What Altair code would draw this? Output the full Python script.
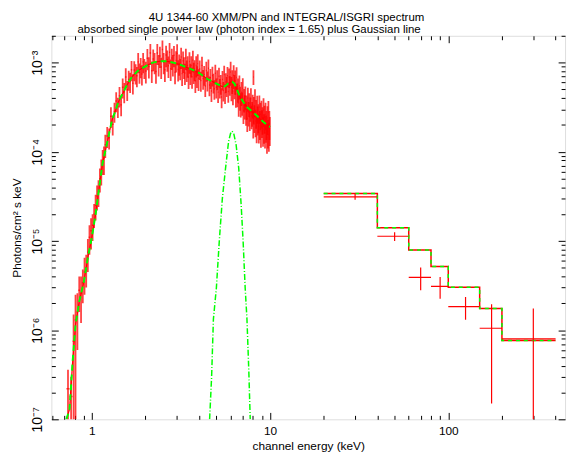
import altair as alt
import pandas as pd

# ---------------- XMM/PN data (keV, half-width keV, flux & error in units of 1e-4) ----------------
xmm_a_e = [0.735, 0.765, 0.79, 0.81, 0.83, 0.85, 0.87, 0.89, 0.91, 0.93, 0.95, 0.97, 0.99,
           1.01, 1.03, 1.05, 1.07, 1.09, 1.11, 1.13, 1.15, 1.17, 1.19]
xmm_a_hw = [0.015, 0.015, 0.01, 0.01, 0.01, 0.01, 0.01, 0.01, 0.01, 0.01, 0.01, 0.01, 0.01,
            0.01, 0.01, 0.01, 0.01, 0.01, 0.01, 0.01, 0.01, 0.01, 0.01]
xmm_a_y = [0.0022, 0.0018, 0.0075, 0.013, 0.016, 0.028, 0.026, 0.034, 0.045, 0.05, 0.075, 0.11, 0.13,
           0.15, 0.2, 0.25, 0.32, 0.36, 0.5, 0.62, 0.8, 0.85, 1.2]
xmm_a_err = [0.0014, 0.0012, 0.0075, 0.012, 0.010, 0.012, 0.014, 0.014, 0.02, 0.02, 0.03, 0.04, 0.05,
             0.05, 0.06, 0.08, 0.1, 0.12, 0.15, 0.2, 0.25, 0.3, 0.35]

xmm_b_e = [1.22, 1.25, 1.28, 1.31, 1.34, 1.37, 1.40, 1.43, 1.46, 1.49, 1.52, 1.55, 1.58,
           1.61, 1.64, 1.67, 1.70, 1.73, 1.76, 1.79, 1.82, 1.85, 1.88, 1.91, 1.94, 1.97]
xmm_b_hw = 0.015
xmm_b_y = [1.5, 1.44, 2.5, 2.04, 2.84, 3.72, 3.22, 4.24, 3.36, 5.31, 4.7, 6.89, 4.97,
           6.48, 6.13, 8.3, 5.89, 8.29, 7.65, 7.11, 10.2, 7.8, 9.0, 7.44, 10.2, 8.77]
xmm_b_err = [0.4, 0.38, 0.65, 0.52, 0.72, 0.95, 0.82, 1.1, 0.85, 1.35, 1.2, 1.75, 1.25,
             1.65, 1.55, 2.1, 1.5, 2.1, 1.95, 1.8, 2.6, 2.0, 2.3, 1.9, 2.6, 2.2]

xmm_c_e = [2.01, 2.05, 2.09, 2.13, 2.17, 2.21, 2.25, 2.29, 2.33, 2.37,
           2.41, 2.45, 2.49, 2.53, 2.57, 2.61, 2.65, 2.69, 2.73, 2.77,
           2.81, 2.85, 2.89, 2.93, 2.97, 3.01, 3.05, 3.09, 3.13, 3.17,
           3.21, 3.25, 3.29, 3.33, 3.37, 3.41, 3.45, 3.49, 3.53, 3.57,
           3.61, 3.65, 3.69, 3.73, 3.77, 3.81, 3.85, 3.89, 3.93, 3.97]
xmm_c_hw = 0.02
xmm_c_y = [8.05, 11.2, 9.07, 12.8, 8.12, 11.0, 10.1, 7.96, 12.8, 9.58,
           11.9, 8.94, 14.0, 10.1, 8.32, 12.2, 10.8, 9.23, 13.1, 8.53,
           11.3, 9.6, 12.1, 7.82, 10.6, 12.7, 8.4, 9.74, 8.69, 11.6,
           7.53, 10.5, 9.01, 7.65, 11.3, 8.32, 9.28, 6.92, 10.3, 7.65,
           9.3, 6.93, 10.7, 7.87, 8.42, 6.28, 9.3, 7.14, 9.75, 6.62]
xmm_c_err = [2.2, 3.0, 2.45, 3.4, 2.2, 3.0, 2.7, 2.15, 3.4, 2.6,
             3.2, 2.4, 3.7, 2.7, 2.25, 3.3, 2.9, 2.5, 3.5, 2.3,
             3.05, 2.6, 3.25, 2.1, 2.85, 3.4, 2.25, 2.6, 2.35, 3.1,
             2.05, 2.85, 2.45, 2.05, 3.05, 2.25, 2.5, 1.85, 2.8, 2.05,
             2.5, 1.85, 2.9, 2.1, 2.25, 1.7, 2.5, 1.95, 2.65, 1.8]

xmm_d_e = [4.03, 4.09, 4.15, 4.21, 4.27, 4.33, 4.39, 4.45, 4.51, 4.57,
           4.63, 4.69, 4.75, 4.81, 4.87, 4.93, 4.99, 5.05, 5.11, 5.17,
           5.23, 5.29, 5.35, 5.41, 5.47, 5.53, 5.59, 5.65, 5.71, 5.77,
           5.83, 5.89, 5.95, 6.01, 6.07, 6.13, 6.19, 6.25, 6.31, 6.37,
           6.43, 6.49, 6.55, 6.61, 6.67, 6.73, 6.79, 6.85, 6.91, 6.97,
           7.03, 7.09, 7.15, 7.21, 7.27, 7.33, 7.39, 7.45, 7.51, 7.57,
           7.63, 7.69, 7.75, 7.81, 7.87, 7.93, 7.99, 8.05, 8.11, 8.17,
           8.23, 8.29, 8.35, 8.41, 8.47, 8.53, 8.59, 8.65, 8.71, 8.77,
           8.83, 8.89, 8.95, 9.01, 9.07, 9.13, 9.19, 9.25, 9.31, 9.37,
           9.43, 9.49, 9.55, 9.61, 9.67, 9.73, 9.79, 9.85, 9.91, 9.97]
xmm_d_hw = 0.03
xmm_d_y = [8.49, 6.32, 9.32, 6.63, 7.34, 5.47, 8.17, 6.35, 8.66, 5.6,
           6.77, 4.82, 7.19, 6.0, 5.09, 7.59, 5.31, 6.56, 4.67, 7.03,
           5.27, 5.82, 4.12, 6.46, 4.86, 7.37, 4.58, 6.08, 5.51, 7.11,
           4.74, 6.89, 5.64, 7.87, 5.29, 6.34, 4.78, 7.2, 5.59, 6.27,
           4.46, 6.82, 4.5, 5.11, 3.53, 5.52, 4.13, 3.48, 4.66, 3.58,
           5.15, 2.9, 3.91, 3.3, 4.16, 2.81, 3.28, 2.37, 4.02, 2.77,
           3.5, 2.46, 3.12, 3.96, 2.54, 2.76, 3.37, 2.16, 3.07, 2.48,
           3.74, 2.21, 2.81, 1.95, 3.16, 2.37, 2.51, 1.94, 3.17, 2.11,
           2.64, 1.71, 2.78, 2.18, 2.35, 1.79, 2.94, 1.93, 2.44, 1.64,
           2.64, 1.91, 2.11, 1.45, 2.39, 1.69, 2.77, 1.55, 2.11, 1.81]
xmm_d_err = [2.1, 1.6, 2.35, 1.65, 1.85, 1.35, 2.05, 1.6, 2.15, 1.4,
             1.7, 1.2, 1.8, 1.5, 1.25, 1.9, 1.35, 1.65, 1.15, 1.75,
             1.3, 1.45, 1.05, 1.6, 1.2, 1.85, 1.15, 1.5, 1.4, 1.8,
             1.2, 1.7, 1.4, 2.35, 1.6, 1.9, 1.45, 2.15, 1.7, 1.9,
             1.35, 2.05, 1.35, 1.55, 1.05, 1.65, 1.25, 1.05, 1.4, 1.05,
             1.55, 0.85, 1.15, 1.0, 1.25, 0.85, 1.0, 0.7, 1.2, 0.85,
             1.05, 0.75, 0.95, 1.2, 0.75, 0.85, 1.0, 0.75, 1.05, 0.85,
             1.3, 0.75, 1.0, 0.7, 1.1, 0.85, 0.9, 0.7, 1.1, 0.75,
             0.9, 0.6, 0.95, 0.75, 0.8, 0.65, 1.05, 0.7, 0.85, 0.55,
             0.9, 0.65, 0.75, 0.5, 0.85, 0.6, 0.95, 0.55, 0.75, 0.65]

xmm_out_e = [8.07]
xmm_out_hw = 0.03
xmm_out_y = [6.9]
xmm_out_err = [1.3]

# XMM total model (units of 1e-4)
xmm_model_e = [0.72, 0.75, 0.78, 0.81, 0.85, 0.90, 0.95, 1.00, 1.05, 1.10, 1.15, 1.20,
               1.25, 1.30, 1.35, 1.40, 1.45, 1.50, 1.55, 1.60, 1.65, 1.70,
               1.80, 1.90, 2.00,
               2.10, 2.20, 2.30, 2.40, 2.50, 2.60, 2.70, 2.80, 2.90, 3.00,
               3.20, 3.40, 3.60, 3.80, 4.00,
               4.45, 5.06, 5.39, 5.60, 5.80, 6.00, 6.13, 6.30, 6.50, 6.80,
               7.10, 7.42, 8.00, 8.50, 9.15, 9.78, 10.0]
xmm_model_v = [0.001, 0.0013, 0.0044, 0.0115, 0.021, 0.034, 0.065, 0.11, 0.2, 0.4, 0.75, 1.1,
               1.6, 2.3, 2.8, 3.5, 4.1, 4.6, 5.3, 5.9, 6.6, 7.1,
               8.0, 8.6, 9.1,
               9.6, 10.0, 10.2, 10.35, 10.4, 10.35, 10.25, 10.1, 9.95, 9.75,
               9.3, 8.85, 8.45, 8.05, 7.65,
               6.55, 5.75, 5.38, 5.45, 5.8, 6.05, 6.1, 5.85, 5.1, 4.1,
               3.6, 3.18, 2.8, 2.5, 2.17, 1.95, 1.9]

# Gaussian line component (units of 1e-4)
gauss_e = [4.58, 4.70, 4.81, 5.00, 5.19, 5.40, 5.63, 5.85, 6.00, 6.12,
           6.25, 6.45, 6.67, 6.88, 7.06, 7.25, 7.42, 7.60, 7.74]
gauss_v = [0.001, 0.003, 0.0133, 0.03, 0.10, 0.3, 0.66, 1.3, 1.6, 1.71,
           1.62, 1.2, 0.66, 0.26, 0.10, 0.03, 0.0133, 0.0035, 0.001]

# ---------------- INTEGRAL/ISGRI ----------------
int_lo = [20, 40, 60, 80, 100, 150, 200]
int_hi = [40, 60, 80, 100, 150, 200, 400]
int_e = [30, 50, 70, 90, 125, 175, 300]
int_y = [3.13e-5, 1.13e-5, 3.9e-6, 3.1e-6, 1.84e-6, 1.05e-6, 8.0e-7]
int_ylo = [2.9e-5, 1.0e-5, 2.8e-6, 2.25e-6, 1.31e-6, 1.5e-7, 1e-9]
int_yhi = [3.4e-5, 1.25e-5, 5.05e-6, 3.95e-6, 2.35e-6, 1.95e-6, 1.75e-6]
int_model = [3.4e-5, 1.41e-5, 7.9e-6, 5.18e-6, 3.03e-6, 1.75e-6, 7.66e-7]

X_TICKS = [0.6, 0.7, 0.8, 0.9, 1, 2, 3, 4, 5, 6, 7, 8, 9, 10, 20, 30, 40, 50, 60, 70, 80, 90,
           100, 200, 300, 400]
Y_TICKS = [1e-7, 2e-7, 3e-7, 4e-7, 5e-7, 6e-7, 7e-7, 8e-7, 9e-7,
           1e-6, 2e-6, 3e-6, 4e-6, 5e-6, 6e-6, 7e-6, 8e-6, 9e-6,
           1e-5, 2e-5, 3e-5, 4e-5, 5e-5, 6e-5, 7e-5, 8e-5, 9e-5,
           1e-4, 2e-4, 3e-4, 4e-4, 5e-4, 6e-4, 7e-4, 8e-4, 9e-4,
           1e-3, 2e-3]
Y_LABELS = [1e-7, 1e-6, 1e-5, 1e-4, 1e-3]

TITLE1 = "4U 1344-60 XMM/PN and INTEGRAL/ISGRI spectrum"
TITLE2 = "absorbed single power law (photon index = 1.65) plus Gaussian line"

# ---------------- build tables ----------------
def seg(e, hw, y, err):
    hws = hw if isinstance(hw, list) else [hw] * len(e)
    return pd.DataFrame({"E": e, "hw": hws, "y": y, "err": err})

xmm = pd.concat([seg(xmm_a_e, xmm_a_hw, xmm_a_y, xmm_a_err),
                 seg(xmm_b_e, xmm_b_hw, xmm_b_y, xmm_b_err),
                 seg(xmm_c_e, xmm_c_hw, xmm_c_y, xmm_c_err),
                 seg(xmm_d_e, xmm_d_hw, xmm_d_y, xmm_d_err),
                 seg(xmm_out_e, xmm_out_hw, xmm_out_y, xmm_out_err)], ignore_index=True)
xmm["flux"] = xmm["y"] * 1e-4
xmm["lo"] = ((xmm["y"] - xmm["err"]) * 1e-4).clip(lower=1e-9)
xmm["hi"] = (xmm["y"] + xmm["err"]) * 1e-4
xmm["e0"] = xmm["E"] - xmm["hw"]
xmm["e1"] = xmm["E"] + xmm["hw"]

xmod = pd.DataFrame({"E": xmm_model_e, "flux": [v * 1e-4 for v in xmm_model_v]})
gmod = pd.DataFrame({"E": gauss_e, "flux": [v * 1e-4 for v in gauss_v]})
integ = pd.DataFrame({"e0": int_lo, "e1": int_hi, "E": int_e, "flux": int_y,
                      "lo": int_ylo, "hi": int_yhi})
istep = pd.DataFrame({"E": int_lo + [int_hi[-1]], "flux": int_model + [int_model[-1]]})

# ---------------- scales / axes ----------------
W, H = 521, 389
FONT = "Liberation Sans"
RED = "#ff0000"
GREEN = "#00ff00"
xs = alt.Scale(type="log", domain=[0.593, 452], nice=False)
ys = alt.Scale(type="log", domain=[1e-7, 2e-3], nice=False)

XMAJ = "datum.value == 1 || datum.value == 10 || datum.value == 100"
YMAJ = ("datum.value == 1e-7 || datum.value == 1e-6 || datum.value == 1e-5 || "
        "datum.value == 1e-4 || datum.value == 1e-3")

def tsize(test):
    return {"condition": {"test": test, "value": 7}, "value": 4}

ax_x_main = alt.Axis(orient="bottom", values=[1, 10, 100], format="d", ticks=False, tickSize=0,
                     domain=False, grid=False, labelFont=FONT, labelFontSize=12,
                     labelColor="black", labelPadding=6, labelFlush=False,
                     title="channel energy (keV)", titleFont=FONT, titleFontSize=12,
                     titleFontWeight="normal", titleColor="black", titlePadding=5)
ax_x_top = alt.Axis(orient="top", ticks=False, tickSize=0, labels=False, domain=False, grid=False,
                    title=TITLE2, titleX=26, titleAlign="left",
                    titleFont=FONT, titleFontSize=11.6, titleFontWeight="normal",
                    titleColor="black", titlePadding=1)
ax_x_in_b = alt.Axis(orient="top", offset=-H, values=X_TICKS, labels=False, domain=False,
                     grid=False, title=None, tickSize=tsize(XMAJ), tickColor="black", tickWidth=1)
ax_x_in_t = alt.Axis(orient="bottom", offset=-H, values=X_TICKS, labels=False, domain=False,
                     grid=False, title=None, tickSize=tsize(XMAJ), tickColor="black", tickWidth=1)

ax_y_main = alt.Axis(orient="left", values=Y_LABELS, ticks=False, tickSize=0, domain=False,
                     grid=False, labelAngle=270, labelAlign="center", labelBaseline="bottom",
                     labelPadding=7, labelFont=FONT, labelFontSize=14, labelColor="black",
                     labelExpr=("datum.value < 5e-7 ? '10⁻⁷' : datum.value < 5e-6 ? '10⁻⁶' : "
                                "datum.value < 5e-5 ? '10⁻⁵' : datum.value < 5e-4 ? '10⁻⁴' : '10⁻³'"),
                     title="Photons/cm² s keV", titleFont=FONT, titleFontSize=12,
                     titleFontWeight="normal", titleColor="black", titlePadding=7)
ax_y_in_l = alt.Axis(orient="right", offset=-W, values=Y_TICKS, labels=False, domain=False,
                     grid=False, title=None, tickSize=tsize(YMAJ), tickColor="black", tickWidth=1)
ax_y_in_r = alt.Axis(orient="left", offset=-W, values=Y_TICKS, labels=False, domain=False,
                     grid=False, title=None, tickSize=tsize(YMAJ), tickColor="black", tickWidth=1)


def X(field, axis=None):
    return alt.X(f"{field}:Q", scale=xs, axis=axis)


def Y(field, axis=None):
    return alt.Y(f"{field}:Q", scale=ys, axis=axis)


# ---------------- layers ----------------
xmm_model_red = alt.Chart(xmod).mark_line(color=RED, strokeWidth=1.2, clip=True).encode(
    x=X("E"), y=Y("flux"))

xmm_h = alt.Chart(xmm).mark_rule(color=RED, strokeWidth=1.5, opacity=0.7, clip=True).encode(
    x=X("e0", ax_x_main), x2="e1", y=Y("flux", ax_y_main))

xmm_v = alt.Chart(xmm).mark_rule(color=RED, strokeWidth=1.8, opacity=0.75, clip=True).encode(
    x=X("E", ax_x_top), y=Y("lo", ax_y_in_l), y2="hi")

int_red = alt.Chart(istep).mark_line(color=RED, strokeWidth=1.5, interpolate="step-after",
                                     clip=True).encode(x=X("E"), y=Y("flux"))
int_green = alt.Chart(istep).mark_line(color=GREEN, strokeWidth=1.5, strokeDash=[4, 4],
                                       interpolate="step-after", clip=True).encode(
    x=X("E"), y=Y("flux"))

int_h = alt.Chart(integ).mark_rule(color=RED, strokeWidth=1.2, clip=True).encode(
    x=X("e0", ax_x_in_b), x2="e1", y=Y("flux", ax_y_in_r))
int_v = alt.Chart(integ).mark_rule(color=RED, strokeWidth=1.2, clip=True).encode(
    x=X("E", ax_x_in_t), y=Y("lo"), y2="hi")

xmm_model_green = alt.Chart(xmod).mark_line(color=GREEN, strokeWidth=2, strokeDash=[6, 4],
                                            clip=True).encode(x=X("E"), y=Y("flux"))
gauss = alt.Chart(gmod).mark_line(color=GREEN, strokeWidth=1.5, strokeDash=[6, 2, 1, 2],
                                  clip=True).encode(x=X("E"), y=Y("flux"))

chart = alt.layer(
    xmm_model_red, xmm_h, xmm_v, int_red, int_green, int_h, int_v, xmm_model_green, gauss
).resolve_axis(x="independent", y="independent").properties(
    width=W, height=H,
    autosize=alt.AutoSizeParams(type="none"),
    padding={"left": 44, "top": 25, "right": 3, "bottom": 33},
    title=alt.TitleParams(text=TITLE1, anchor="middle", dx=-22, font=FONT, fontSize=11.6,
                          fontWeight="normal", color="black", offset=0),
).configure_view(stroke="black", strokeWidth=1).configure(background="white")

chart.save("out.html", embed_options={"renderer": "svg", "actions": False})
